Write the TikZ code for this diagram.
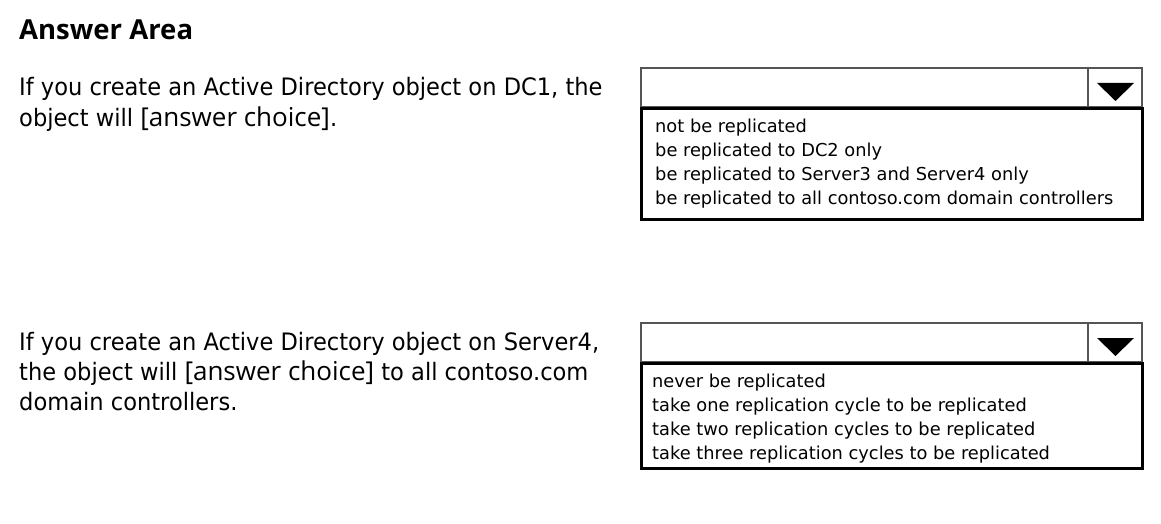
\documentclass[tikz,border=0pt]{standalone}
\usepackage{fontspec}
\setmainfont{DejaVu Sans}
\newfontfamily\bodyfont[FakeStretch=0.94]{DejaVu Sans}
\newfontfamily\itemfont{DejaVu Sans}
\newfontfamily\choicefont{Open Sans}
\newfontfamily\titlefont{Open Sans}
\definecolor{boxgray}{HTML}{555555}
\newcommand{\choicetext}[1]{{\choicefont\fontsize{26}{30}\selectfont #1}}
\begin{document}
\begin{tikzpicture}[x=1pt,y=-1pt,
  title/.style={anchor=base west, inner sep=0pt, font=\titlefont\bfseries\fontsize{27.5}{30}\selectfont},
  body/.style={anchor=base west, inner sep=0pt, font=\bodyfont\fontsize{24}{30}\selectfont},
  item/.style={anchor=base west, inner sep=0pt, font=\itemfont\fontsize{17.8}{24}\selectfont},
  headbox/.style={draw=boxgray, line width=2pt},
  listbox/.style={draw=black, line width=3pt},
  tri/.style={fill=black}]
\useasboundingbox (0,0) rectangle (1161,524);
\fill[white] (0,0) rectangle (1161,524);

\node[title] (title) at (19,40) {Answer Area};

% question 1
\node[body] (q1a) at (19,96) {If you create an Active Directory object on DC1, the};
\node[body] (q1b) at (19,126) {object will \choicetext{[answer choice]}.};

\draw[headbox] (641,68) rectangle (1142,107);
\draw[headbox] (1088,68) -- (1088,107);
\fill[tri] (1097,83) -- (1134,83) -- (1115.5,101) -- cycle;
\draw[listbox] (641,108.5) rectangle (1142,219);
\node[item] (a1) at (655,132) {not be replicated};
\node[item] (a2) at (655,156) {be replicated to DC2 only};
\node[item] (a3) at (655,180) {be replicated to Server3 and Server4 only};
\node[item] (a4) at (655,204) {be replicated to all contoso.com domain controllers};

% question 2
\node[body] (q2a) at (19,350) {If you create an Active Directory object on Server4,};
\node[body] (q2b) at (19,380) {the object will \choicetext{[answer choice]} to all contoso.com};
\node[body] (q2c) at (19,410) {domain controllers.};

\draw[headbox] (641,323) rectangle (1142,362);
\draw[headbox] (1088,323) -- (1088,362);
\fill[tri] (1097,338) -- (1134,338) -- (1115.5,356) -- cycle;
\draw[listbox] (641,363.5) rectangle (1142,468);
\node[item] (b1) at (652,387) {never be replicated};
\node[item] (b2) at (652,411) {take one replication cycle to be replicated};
\node[item] (b3) at (652,435) {take two replication cycles to be replicated};
\node[item] (b4) at (652,459) {take three replication cycles to be replicated};
\end{tikzpicture}
\end{document}
